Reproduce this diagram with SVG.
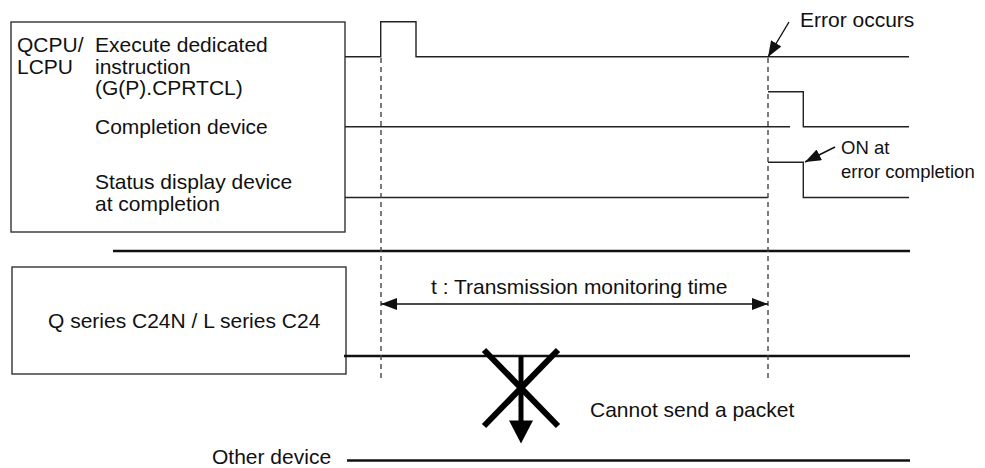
<svg xmlns="http://www.w3.org/2000/svg" width="985" height="468" viewBox="0 0 985 468">
<style>
  text { font-family: "Liberation Sans", Arial, Helvetica, sans-serif; font-size: 21px; fill: #111; }
  .small { font-size: 18.5px; }
  .box { fill: #fff; stroke: #333; stroke-width: 1.4; }
  .sig { fill: none; stroke: #222; stroke-width: 1.4; }
  .bus { fill: none; stroke: #111; stroke-width: 2.6; }
  .dash { fill: none; stroke: #444; stroke-width: 1.4; stroke-dasharray: 5 4; }
  .arr { fill: none; stroke: #111; stroke-width: 1.4; }
  .cross { fill: none; stroke: #000; stroke-width: 6; }
</style>
<defs>
  <marker id="ah" markerWidth="16" markerHeight="12" refX="16" refY="6" orient="auto" markerUnits="userSpaceOnUse">
    <path d="M0,0 L16,6 L0,12 Z" fill="#111"/>
  </marker>
  <marker id="ahs" markerWidth="16" markerHeight="12" refX="0" refY="6" orient="auto" markerUnits="userSpaceOnUse">
    <path d="M16,0 L0,6 L16,12 Z" fill="#111"/>
  </marker>
</defs>

<g id="node-cpu">
  <rect class="box" x="11" y="22" width="334" height="210"/>
  <text x="17" y="52">QCPU/</text>
  <text x="17" y="73.5">LCPU</text>
  <text x="95" y="52">Execute dedicated</text>
  <text x="95" y="73.5">instruction</text>
  <text x="95" y="95">(G(P).CPRTCL)</text>
  <text x="95" y="134">Completion device</text>
  <text x="95" y="189">Status display device</text>
  <text x="95" y="211">at completion</text>
</g>

<g id="node-c24">
  <rect class="box" x="12" y="267" width="334" height="107"/>
  <text x="48" y="327.5">Q series C24N / L series C24</text>
</g>

<g id="node-other">
  <text x="212" y="464">Other device</text>
</g>

<g id="signals">
  <polyline class="sig" points="345,56.7 380.7,56.7 380.7,21.7 416,21.7 416,56.7 909,56.7"/>
  <polyline class="sig" points="345,126.7 790,126.7"/>
  <polyline class="sig" points="768,91.7 803.3,91.7 803.3,126.7 909,126.7"/>
  <polyline class="sig" points="345,197.5 768,197.5"/>
  <polyline class="sig" points="768,162.3 803.3,162.3 803.3,197.5 909,197.5"/>
  <line class="bus" x1="113" y1="251" x2="910" y2="251"/>
  <line class="bus" x1="344" y1="356" x2="910" y2="356"/>
  <line class="bus" x1="347" y1="460.5" x2="910" y2="460.5"/>
  <line class="dash" x1="381" y1="58" x2="381" y2="381"/>
  <line class="dash" x1="768" y1="58" x2="768" y2="381"/>
</g>

<g id="connectors">
  <line class="arr" x1="789" y1="22" x2="768" y2="57" marker-end="url(#ah)"/>
  <line class="arr" x1="835" y1="147" x2="805" y2="162" marker-end="url(#ah)"/>
  <line class="arr" x1="381" y1="304" x2="768" y2="304" marker-start="url(#ahs)" marker-end="url(#ah)"/>
  <line class="cross" x1="484" y1="350" x2="558" y2="426"/>
  <line class="cross" x1="558" y1="350" x2="484" y2="426"/>
  <line x1="521" y1="356" x2="521" y2="422" stroke="#000" stroke-width="5"/>
  <path d="M509,420.5 L533,420.5 L521,443.5 Z" fill="#000"/>
</g>

<g id="labels">
  <text x="800" y="27">Error occurs</text>
  <text class="small" x="841" y="154">ON at</text>
  <text class="small" x="841" y="178">error completion</text>
  <text x="431" y="293.5">t : Transmission monitoring time</text>
  <text x="590" y="416.5">Cannot send a packet</text>
</g>
</svg>
